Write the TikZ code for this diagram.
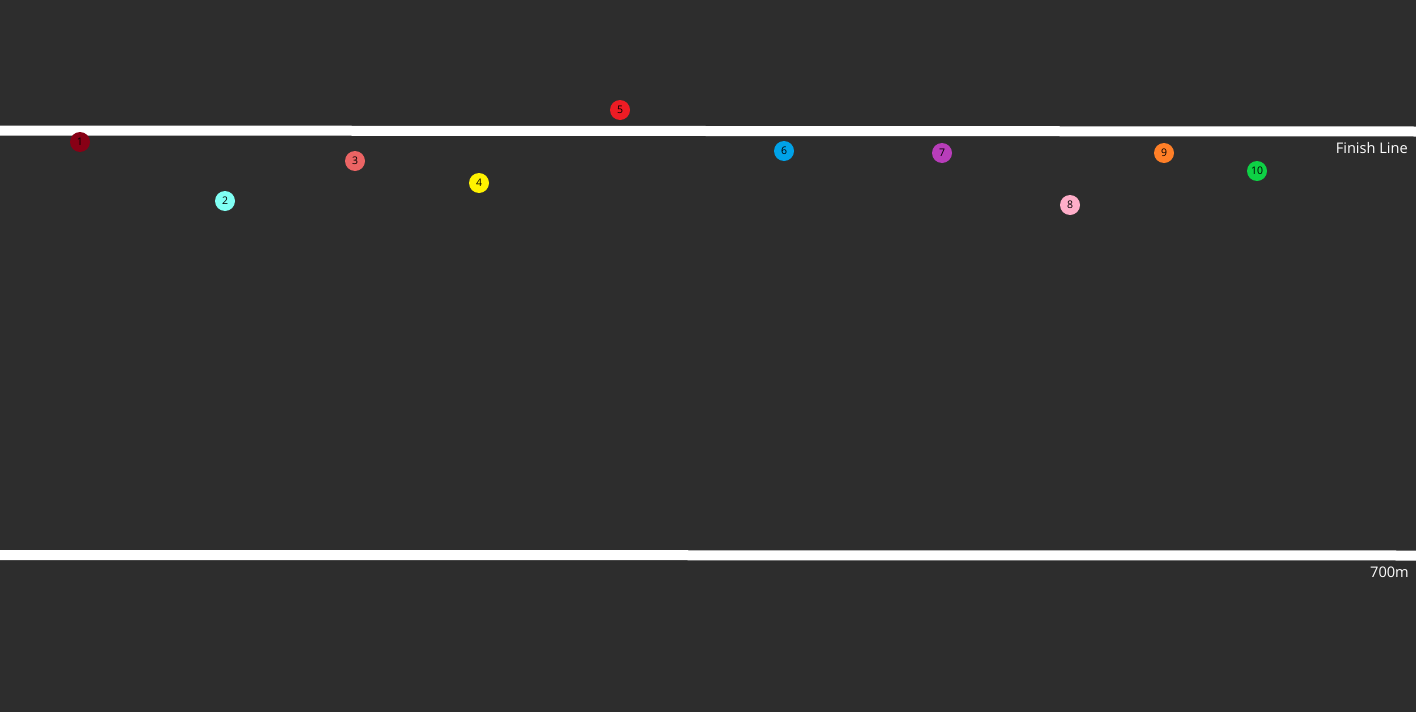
\documentclass[tikz,border=0pt]{standalone}
\usepackage{fontspec}
\setmainfont{Open Sans}
\definecolor{bg}{HTML}{2D2D2D}
\definecolor{c1}{HTML}{880015}
\definecolor{c2}{HTML}{80FFF4}
\definecolor{c3}{HTML}{EB6464}
\definecolor{c4}{HTML}{FFF200}
\definecolor{c5}{HTML}{ED1C24}
\definecolor{c6}{HTML}{00A2E8}
\definecolor{c7}{HTML}{B83DBA}
\definecolor{c8}{HTML}{FFAEC9}
\definecolor{c9}{HTML}{FF7F27}
\definecolor{c10}{HTML}{0ED145}
\begin{document}
\begin{tikzpicture}[x=1pt,y=-1pt,
  runner/.style={circle,inner sep=0pt,minimum size=20pt,font=\fontsize{10.5}{11}\selectfont,text=black},
  lane/.style={white,line width=10pt},
  label/.style={text=white,anchor=east,inner sep=0pt}]
\fill[bg] (0,0) rectangle (1416,712);
\useasboundingbox (0,0) rectangle (1416,712);
\coordinate (t1) at (0,130.5);
\coordinate (t2) at (1416,131.5);
\coordinate (b1) at (0,555);
\coordinate (b2) at (1416,555.5);
\draw[lane] (t1) -- (t2);
\draw[lane] (b1) -- (b2);
\node[label,font=\fontsize{14.6}{16}\selectfont] (fin) at (1408,148.5) {Finish Line};
\node[label,font=\fontsize{14.6}{16}\selectfont] (m700) at (1409,572.5) {700m};
\node[runner,fill=c1] (r1) at (80,142) {1};
\node[runner,fill=c2] (r2) at (225,201) {2};
\node[runner,fill=c3] (r3) at (355,161) {3};
\node[runner,fill=c4] (r4) at (479,183) {4};
\node[runner,fill=c5] (r5) at (620,110) {5};
\node[runner,fill=c6] (r6) at (784,151) {6};
\node[runner,fill=c7] (r7) at (942,153) {7};
\node[runner,fill=c8] (r8) at (1070,205) {8};
\node[runner,fill=c9] (r9) at (1164,153) {9};
\node[runner,fill=c10] (r10) at (1257,171) {10};
\end{tikzpicture}
\end{document}
